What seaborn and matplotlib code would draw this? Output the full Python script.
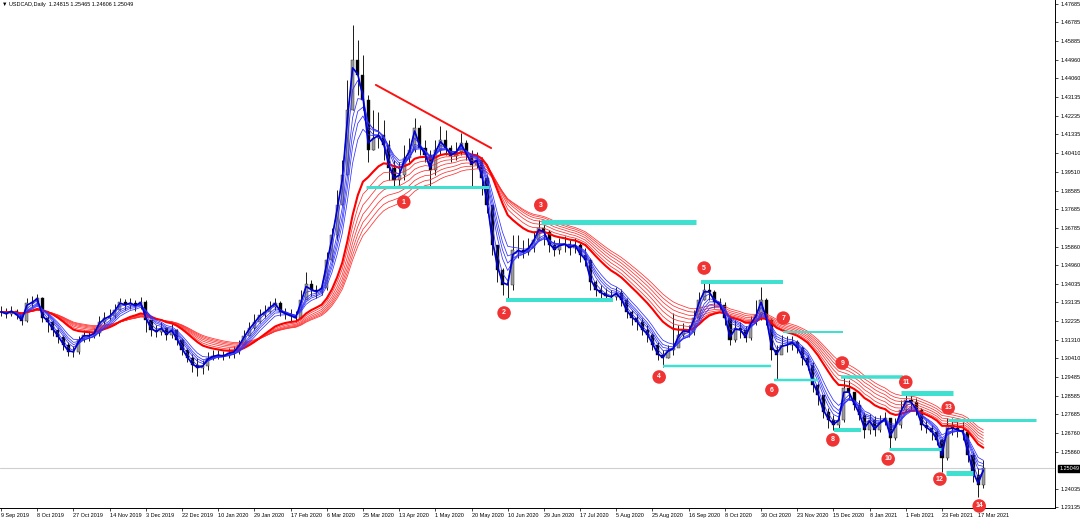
import numpy as np
import pandas as pd
import matplotlib
matplotlib.use("Agg")
import matplotlib.pyplot as plt
import matplotlib.transforms as mtransforms
import seaborn as sns

# ---- data (each bar ~ 2 trading days) ----
header_text = "\u25bc USDCAD,Daily  1.24815 1.25465 1.24606 1.25049"
last_price = 1.25049

close = [
    1.3267, 1.3257, 1.3272, 1.3252, 1.3223, 1.3311, 1.3315, 1.3335, 1.3237, 1.3218,
    1.3179, 1.3145, 1.3106, 1.3072, 1.3072, 1.3130, 1.3155, 1.3150, 1.3164, 1.3218,
    1.3237, 1.3247, 1.3276, 1.3315, 1.3301, 1.3311, 1.3296, 1.3315, 1.3228, 1.3179,
    1.3169, 1.3189, 1.3155, 1.3179, 1.3130, 1.3081, 1.3042, 1.3008, 1.2994, 1.3003,
    1.3042, 1.3052, 1.3057, 1.3052, 1.3067, 1.3072, 1.3106, 1.3150, 1.3189, 1.3218,
    1.3252, 1.3267, 1.3291, 1.3311, 1.3267, 1.3257, 1.3247, 1.3237, 1.3325, 1.3403,
    1.3374, 1.3364, 1.3384, 1.3520, 1.3642, 1.3788, 1.3935, 1.4252, 1.4495, 1.4422,
    1.4300, 1.4057, 1.4115, 1.4130, 1.4081, 1.3969, 1.3910, 1.3935, 1.4018, 1.4057,
    1.4164, 1.4066, 1.4032, 1.3959, 1.4057, 1.4105, 1.4066, 1.4027, 1.4047, 1.4091,
    1.4032, 1.3983, 1.4008, 1.3920, 1.3788, 1.3593, 1.3471, 1.3398, 1.3398, 1.3569,
    1.3569, 1.3559, 1.3579, 1.3618, 1.3676, 1.3657, 1.3593, 1.3569, 1.3593, 1.3598,
    1.3579, 1.3593, 1.3545, 1.3520, 1.3413, 1.3374, 1.3359, 1.3345, 1.3340, 1.3359,
    1.3325, 1.3267, 1.3237, 1.3218, 1.3179, 1.3155, 1.3106, 1.3057, 1.3042, 1.3081,
    1.3091, 1.3155, 1.3179, 1.3169, 1.3237, 1.3325, 1.3374, 1.3364, 1.3315, 1.3301,
    1.3237, 1.3130, 1.3189, 1.3179, 1.3140, 1.3218, 1.3252, 1.3325, 1.3228, 1.3081,
    1.3057, 1.3106, 1.3106, 1.3120, 1.3091, 1.3042, 1.3008, 1.2911, 1.2862, 1.2779,
    1.2740, 1.2716, 1.2740, 1.2896, 1.2877, 1.2813, 1.2764, 1.2691, 1.2740, 1.2691,
    1.2730, 1.2750, 1.2652, 1.2716, 1.2789, 1.2838, 1.2828, 1.2789, 1.2716, 1.2701,
    1.2682, 1.2643, 1.2555, 1.2716, 1.2701, 1.2691, 1.2682, 1.2569, 1.2472, 1.2423, 1.2505,
]
high = [
    1.3296, 1.3286, 1.3296, 1.3281, 1.3267, 1.3335, 1.3345, 1.3354, 1.3340, 1.3257,
    1.3228, 1.3189, 1.3155, 1.3120, 1.3101, 1.3150, 1.3179, 1.3174, 1.3189, 1.3247,
    1.3267, 1.3281, 1.3306, 1.3335, 1.3330, 1.3335, 1.3325, 1.3340, 1.3325, 1.3218,
    1.3203, 1.3218, 1.3194, 1.3208, 1.3184, 1.3140, 1.3091, 1.3062, 1.3042, 1.3033,
    1.3072, 1.3081, 1.3081, 1.3077, 1.3091, 1.3101, 1.3130, 1.3179, 1.3218, 1.3257,
    1.3281, 1.3301, 1.3320, 1.3335, 1.3320, 1.3286, 1.3281, 1.3272, 1.3374, 1.3462,
    1.3423, 1.3398, 1.3413, 1.3559, 1.3676, 1.3862, 1.4008, 1.4398, 1.4666, 1.4593,
    1.4520, 1.4325, 1.4252, 1.4242, 1.4203, 1.4105, 1.4008, 1.3998, 1.4081, 1.4115,
    1.4213, 1.4179, 1.4105, 1.4057, 1.4105, 1.4174, 1.4154, 1.4081, 1.4096, 1.4139,
    1.4105, 1.4057, 1.4047, 1.4022, 1.3935, 1.3788, 1.3593, 1.3481, 1.3432, 1.3642,
    1.3642, 1.3618, 1.3627, 1.3657, 1.3715, 1.3715, 1.3667, 1.3618, 1.3627, 1.3637,
    1.3618, 1.3627, 1.3603, 1.3579, 1.3530, 1.3423, 1.3398, 1.3384, 1.3374, 1.3389,
    1.3379, 1.3335, 1.3276, 1.3257, 1.3237, 1.3203, 1.3164, 1.3120, 1.3081, 1.3106,
    1.3262, 1.3203, 1.3213, 1.3203, 1.3276, 1.3364, 1.3423, 1.3418, 1.3374, 1.3335,
    1.3315, 1.3252, 1.3228, 1.3218, 1.3198, 1.3247, 1.3325, 1.3389, 1.3335, 1.3237,
    1.3106, 1.3155, 1.3150, 1.3150, 1.3130, 1.3101, 1.3057, 1.3023, 1.2920, 1.2862,
    1.2799, 1.2764, 1.2779, 1.2950, 1.2935, 1.2877, 1.2838, 1.2779, 1.2769, 1.2760,
    1.2764, 1.2779, 1.2750, 1.2750, 1.2838, 1.2877, 1.2872, 1.2847, 1.2799, 1.2740,
    1.2716, 1.2691, 1.2652, 1.2750, 1.2750, 1.2740, 1.2730, 1.2691, 1.2584, 1.2506, 1.2545,
]
low = [
    1.3247, 1.3237, 1.3247, 1.3233, 1.3203, 1.3218, 1.3291, 1.3306, 1.3218, 1.3169,
    1.3150, 1.3115, 1.3081, 1.3052, 1.3047, 1.3062, 1.3120, 1.3125, 1.3140, 1.3150,
    1.3208, 1.3228, 1.3237, 1.3276, 1.3276, 1.3281, 1.3272, 1.3281, 1.3169, 1.3150,
    1.3145, 1.3155, 1.3130, 1.3140, 1.3106, 1.3057, 1.3023, 1.2974, 1.2955, 1.2964,
    1.2984, 1.3033, 1.3038, 1.3033, 1.3042, 1.3042, 1.3062, 1.3106, 1.3150, 1.3179,
    1.3213, 1.3237, 1.3262, 1.3276, 1.3247, 1.3233, 1.3223, 1.3218, 1.3237, 1.3350,
    1.3345, 1.3335, 1.3350, 1.3374, 1.3511, 1.3618, 1.3788, 1.3935, 1.4252, 1.4325,
    1.4252, 1.3998, 1.4057, 1.4066, 1.4008, 1.3910, 1.3876, 1.3886, 1.3910, 1.3998,
    1.4047, 1.4032, 1.3998, 1.3876, 1.3935, 1.4032, 1.4032, 1.3998, 1.4008, 1.4032,
    1.4008, 1.3876, 1.3969, 1.3837, 1.3749, 1.3545, 1.3413, 1.3350, 1.3320, 1.3374,
    1.3530, 1.3530, 1.3545, 1.3559, 1.3618, 1.3593, 1.3559, 1.3540, 1.3549, 1.3559,
    1.3545, 1.3554, 1.3511, 1.3491, 1.3374, 1.3345, 1.3330, 1.3320, 1.3320, 1.3325,
    1.3296, 1.3237, 1.3203, 1.3179, 1.3155, 1.3120, 1.3081, 1.3033, 1.2999, 1.3042,
    1.3057, 1.3106, 1.3145, 1.3145, 1.3155, 1.3228, 1.3325, 1.3325, 1.3286, 1.3276,
    1.3203, 1.3106, 1.3120, 1.3140, 1.3120, 1.3130, 1.3203, 1.3228, 1.3203, 1.3033,
    1.2935, 1.3072, 1.3072, 1.3081, 1.3067, 1.3008, 1.2984, 1.2877, 1.2813, 1.2750,
    1.2701, 1.2691, 1.2701, 1.2730, 1.2838, 1.2789, 1.2740, 1.2652, 1.2672, 1.2662,
    1.2682, 1.2716, 1.2594, 1.2643, 1.2701, 1.2779, 1.2789, 1.2764, 1.2691, 1.2677,
    1.2643, 1.2618, 1.2486, 1.2545, 1.2667, 1.2657, 1.2643, 1.2535, 1.2438, 1.2365, 1.2409,
]

date_labels = [
    "9 Sep 2019", "8 Oct 2019", "27 Oct 2019", "14 Nov 2019", "3 Dec 2019",
    "22 Dec 2019", "10 Jan 2020", "29 Jan 2020", "17 Feb 2020", "6 Mar 2020",
    "25 Mar 2020", "13 Apr 2020", "1 May 2020", "20 May 2020", "10 Jun 2020",
    "29 Jun 2020", "17 Jul 2020", "5 Aug 2020", "25 Aug 2020", "16 Sep 2020",
    "8 Oct 2020", "30 Oct 2020", "23 Nov 2020", "15 Dec 2020", "8 Jan 2021",
    "1 Feb 2021", "23 Feb 2021", "17 Mar 2021",
]
bars_per_label = 7

price_ticks = [
    1.47685, 1.46785, 1.45885, 1.44960, 1.44060, 1.43135, 1.42235, 1.41335,
    1.40410, 1.39510, 1.38585, 1.37685, 1.36785, 1.35860, 1.34960, 1.34035,
    1.33135, 1.32235, 1.31310, 1.30410, 1.29485, 1.28585, 1.27685, 1.26760,
    1.25860, 1.24035, 1.23135,
]

# guppy style ribbons (periods in days)
short_periods = [3, 5, 8, 10, 12, 15]
long_periods = [30, 35, 40, 45, 50, 55, 60]
days_per_bar = 2.3

# hand drawn objects
trend_x = [72.5, 94.8]
trend_y = [1.4374, 1.4066]

level_start = [70.6, 97.7, 104.4, 128.0, 135.4, 149.5, 151.3, 161.1, 162.5, 171.8, 174.1, 182.8, 183.2]
level_end = [94.4, 118.4, 134.4, 148.9, 151.3, 158.0, 162.9, 166.3, 174.5, 181.8, 184.1, 188.0, 200.2]
level_price = [1.3876, 1.3325, 1.3706, 1.3003, 1.3413, 1.2935, 1.3169, 1.2691, 1.2950, 1.2599, 1.2872, 1.2482, 1.2740]
level_width = [3, 4, 5, 2.5, 4, 2.5, 2, 4, 3.5, 3, 5, 5, 3]

marker_labels = [str(n) for n in range(1, 15)]
marker_x = [77.9, 97.3, 104.4, 127.3, 136.0, 149.1, 151.3, 160.9, 162.7, 171.6, 175.0, 181.6, 183.2, 189.2]
marker_y = [1.3803, 1.3262, 1.3788, 1.2950, 1.3481, 1.2886, 1.3237, 1.2643, 1.3018, 1.2550, 1.2925, 1.2452, 1.2799, 1.2321]

# ---- figure ----
sns.set_theme(style="white")
plt.rcParams["font.family"] = ["Liberation Sans", "DejaVu Sans"]

W, H = 1080, 521
fig = plt.figure(figsize=(W / 100, H / 100), dpi=100)
ax = fig.add_axes([0, 13 / H, 1055 / W, 508 / H])

df = pd.DataFrame({"close": close, "high": high, "low": low})
df["open"] = df["close"].shift(1).fillna(df["close"].iloc[0])
df["idx"] = np.arange(len(df))

# candles
ax.vlines(df["idx"], df["low"], df["high"], color="#1a1a1a", lw=0.7, zorder=1)
up = df["close"] >= df["open"]
body_bottom = df[["open", "close"]].min(axis=1)
body_h = (df["close"] - df["open"]).abs()
ax.bar(df["idx"], body_h, bottom=body_bottom, width=0.6,
       color=np.where(up, "#9a9a9a", "#000000"), edgecolor="#1a1a1a",
       linewidth=0.3, zorder=2)

# moving average ribbons
def ema_frame(periods):
    parts = []
    for p in periods:
        ema = df["close"].ewm(span=max(p / days_per_bar, 1.0), adjust=False).mean()
        parts.append(pd.DataFrame({"idx": df["idx"], "value": ema, "line": f"EMA{p}"}))
    return pd.concat(parts, ignore_index=True)

long_df = ema_frame(long_periods)
short_df = ema_frame(short_periods)

sns.lineplot(data=long_df, x="idx", y="value", hue="line",
             palette={f"EMA{p}": "#ff3030" for p in long_periods},
             lw=0.55, legend=False, estimator=None, ax=ax, zorder=3)
sns.lineplot(data=long_df[long_df["line"] == f"EMA{long_periods[0]}"], x="idx", y="value",
             color="#ff0000", lw=1.5, estimator=None, ax=ax, zorder=3)
sns.lineplot(data=short_df, x="idx", y="value", hue="line",
             palette={f"EMA{p}": "#3030ff" for p in short_periods},
             lw=0.55, legend=False, estimator=None, ax=ax, zorder=3)
sns.lineplot(data=short_df[short_df["line"] == f"EMA{short_periods[0]}"], x="idx", y="value",
             color="#0000d0", lw=1.2, estimator=None, ax=ax, zorder=3)

# current price line
ax.axhline(last_price, color="#cfcfcf", lw=0.8, zorder=0.5)

# trend line and support / resistance levels
ax.plot(trend_x, trend_y, color="#ff1010", lw=1.4, zorder=4)
for s, e, p, w in zip(level_start, level_end, level_price, level_width):
    ax.plot([s, e], [p, p], color="#40e0d0", lw=w * 0.72, solid_capstyle="butt", zorder=4)

# numbered markers
ax.scatter(marker_x, marker_y, s=95, color="#f03434", edgecolors="none", zorder=6, clip_on=False)
for x, y, lbl in zip(marker_x, marker_y, marker_labels):
    ax.text(x, y, lbl, color="white", fontsize=5, ha="center", va="center",
            fontweight="bold", zorder=7, clip_on=False)

# axes look
ax.set_xlim(-0.2, 1055 / 5.17 - 0.2)
ax.set_ylim(1.2311, 1.4788)
ax.set_xlabel("")
ax.set_ylabel("")
ax.yaxis.tick_right()
ax.set_yticks(price_ticks)
ax.set_yticklabels([f"{t:.5f}" for t in price_ticks])
ax.set_xticks([i * bars_per_label for i in range(len(date_labels))])
ax.set_xticklabels(date_labels, ha="left")
ax.tick_params(axis="x", bottom=True, labelbottom=True, length=2.5, width=0.5,
               labelsize=4, pad=1.2, colors="black")
ax.tick_params(axis="y", right=True, left=False, labelright=True, labelleft=False,
               length=2.5, width=0.5, labelsize=4, pad=1.5, colors="black")
for side in ["left", "top"]:
    ax.spines[side].set_visible(False)
for side in ["right", "bottom"]:
    ax.spines[side].set_visible(True)
    ax.spines[side].set_color("black")
    ax.spines[side].set_linewidth(0.7)

# price box on the scale
trans = mtransforms.blended_transform_factory(ax.transAxes, ax.transData)
ax.text(1.004, last_price, f"{last_price:.5f}", transform=trans, fontsize=4,
        color="white", ha="left", va="center", zorder=8,
        bbox=dict(boxstyle="square,pad=0.2", fc="black", ec="black"))

fig.text(0.002, 0.996, header_text, fontsize=4, ha="left", va="top", color="black")

fig.savefig("out.png", dpi=100)
